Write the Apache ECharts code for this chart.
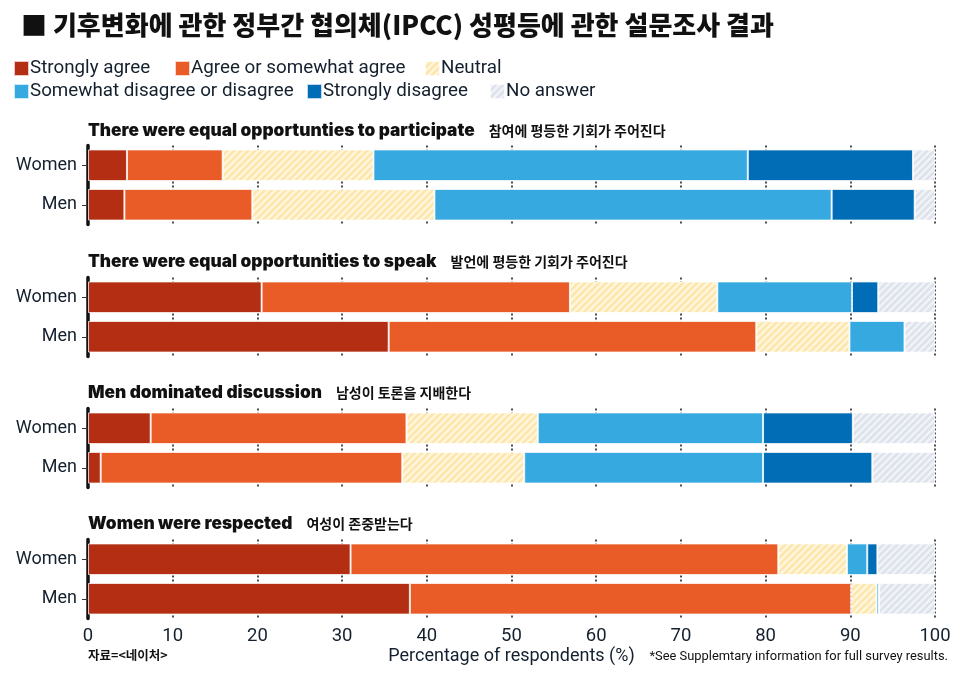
<!DOCTYPE html>
<html><head><meta charset="utf-8">
<script src="https://cdn.jsdelivr.net/npm/echarts@6/dist/echarts.min.js"></script>
<style>html,body{margin:0;padding:0;background:#fff}#c{width:970px;height:673px}</style>
</head><body><div id="c"></div>
<script>
// ---- text ----
const chartTitle = '■ 기후변화에 관한 정부간 협의체(IPCC) 성평등에 관한 설문조사 결과';
const categories = ['Women', 'Men'];
const seriesNames = ['Strongly agree', 'Agree or somewhat agree', 'Neutral', 'Somewhat disagree or disagree', 'Strongly disagree', 'No answer'];
const panelTitlesEn = ['There were equal opportunties to participate', 'There were equal opportunities to speak', 'Men dominated discussion', 'Women were respected'];
const panelTitlesKo = ['참여에 평등한 기회가 주어진다', '발언에 평등한 기회가 주어진다', '남성이 토론을 지배한다', '여성이 존중받는다'];
const axisName = 'Percentage of respondents (%)';
const sourceText = '자료=<네이처>';
const noteText = '*See Supplemtary information for full survey results.';

// ---- data (% of respondents, in order of seriesNames) ----
const participateWomen = [4.6, 11.3, 17.8, 44.2, 19.5, 2.6];
const participateMen   = [4.3, 15.1, 21.5, 46.9, 9.8, 2.4];
const speakWomen       = [20.5, 36.4, 17.4, 15.9, 3.1, 6.7];
const speakMen         = [35.5, 43.4, 11.0, 6.5, 0, 3.6];
const dominatedWomen   = [7.4, 30.2, 15.5, 26.6, 10.6, 9.7];
const dominatedMen     = [1.5, 35.6, 14.4, 28.2, 12.9, 7.4];
const respectedWomen   = [31.0, 50.5, 8.1, 2.4, 1.2, 6.8];
const respectedMen     = [38.0, 52.1, 3.0, 0.3, 0, 6.6];

const panels = [
  [participateWomen, participateMen],
  [speakWomen, speakMen],
  [dominatedWomen, dominatedMen],
  [respectedWomen, respectedMen]
];

// ---- styles ----
function stripes(bg, fg) {
  const s = 7, c = document.createElement('canvas');
  c.width = s; c.height = s;
  const g = c.getContext('2d');
  g.fillStyle = bg; g.fillRect(0, 0, s, s);
  g.strokeStyle = fg; g.lineWidth = 2.6;
  g.beginPath();
  g.moveTo(-1, s + 1); g.lineTo(s + 1, -1);
  g.moveTo(-1, 1); g.lineTo(1, -1);
  g.moveTo(s - 1, s + 1); g.lineTo(s + 1, s - 1);
  g.stroke();
  return { image: c, repeat: 'repeat' };
}
const colors = [
  '#b32e13',
  '#e95b27',
  stripes('#fff6dd', '#fde6ab'),
  '#36a9e0',
  '#006db6',
  stripes('#f1f3f7', '#dde3ec')
];
const gridTops = [145.5, 277.5, 408.5, 539.5];
const gridH = 79;
const titleTops = [117.5, 248.5, 379.5, 510.5];
const textColor = '#14202e';

const grid = [], xAxis = [], yAxis = [], series = [], title = [];
title.push({
  text: chartTitle, left: 16, top: 7,
  textStyle: { fontFamily: 'Noto Sans CJK KR', fontWeight: 900, fontSize: 26, color: '#111' }
});
panels.forEach((rows, p) => {
  grid.push({ left: 88, right: 35, top: gridTops[p], height: gridH });
  title.push({
    text: '{en|' + panelTitlesEn[p] + '}{ko|' + panelTitlesKo[p] + '}',
    left: 83, top: titleTops[p],
    textStyle: {
      rich: {
        en: { fontFamily: 'Inter', fontWeight: 900, fontSize: 17.3, color: '#111', padding: [0, 14, 0, 0] },
        ko: { fontFamily: 'Noto Sans CJK KR', fontWeight: 'bold', fontSize: 14, color: '#111' }
      }
    }
  });
  const last = p === panels.length - 1;
  xAxis.push({
    type: 'value', gridIndex: p, min: 0, max: 100, interval: 10,
    axisLine: { show: false }, axisTick: { show: false },
    axisLabel: { show: last, fontFamily: 'Roboto', fontSize: 18.5, color: textColor, margin: 8 },
    splitLine: { show: true, lineStyle: { type: [2, 2], color: '#222', width: 1.6 } },
    name: last ? axisName : '', nameLocation: 'middle', nameGap: 29,
    nameTextStyle: { fontFamily: 'Roboto', fontSize: 18, color: textColor }
  });
  yAxis.push({
    type: 'category', gridIndex: p, data: categories, inverse: true,
    axisLine: { show: true, lineStyle: { color: '#111', width: 3.5 } },
    axisTick: { show: true, alignWithLabel: true, length: 6, lineStyle: { color: '#333', width: 1 } },
    axisLabel: { fontFamily: 'Roboto', fontSize: 18, color: textColor, margin: 11 }
  });
  seriesNames.forEach((name, k) => {
    series.push({
      name: name, type: 'bar', stack: 'p' + p, xAxisIndex: p, yAxisIndex: p,
      barCategoryGap: '20%', z: 3,
      itemStyle: { color: colors[k], borderColor: 'rgba(255,255,255,0.75)', borderWidth: 1 },
      emphasis: { disabled: true },
      data: rows.map(r => r[k])
    });
  });
});

const legendPos = [[13, 59], [174, 59], [424, 59], [13, 82], [306, 82], [489, 82]];
const legend = seriesNames.map((n, i) => ({
  data: [n], left: legendPos[i][0], top: legendPos[i][1], padding: 0,
  icon: 'rect', itemWidth: 15, itemHeight: 15, itemGap: 0,
  textStyle: { fontFamily: 'Roboto', fontSize: 18.8, color: textColor, padding: [0, 0, 0, -4] }
}));

const chart = echarts.init(document.getElementById('c'), null, { renderer: 'canvas' });
chart.setOption({
  animation: false,
  backgroundColor: '#fff',
  title, legend, grid, xAxis, yAxis, series,
  graphic: [
    { type: 'text', left: 88, top: 649, style: { text: sourceText, fontFamily: 'Noto Sans CJK KR', fontWeight: 'bold', fontSize: 12.5, fill: '#111' } },
    { type: 'text', right: 22, top: 650, style: { text: noteText, fontFamily: 'Roboto', fontSize: 12.9, fill: '#111' } }
  ]
});
</script></body></html>
